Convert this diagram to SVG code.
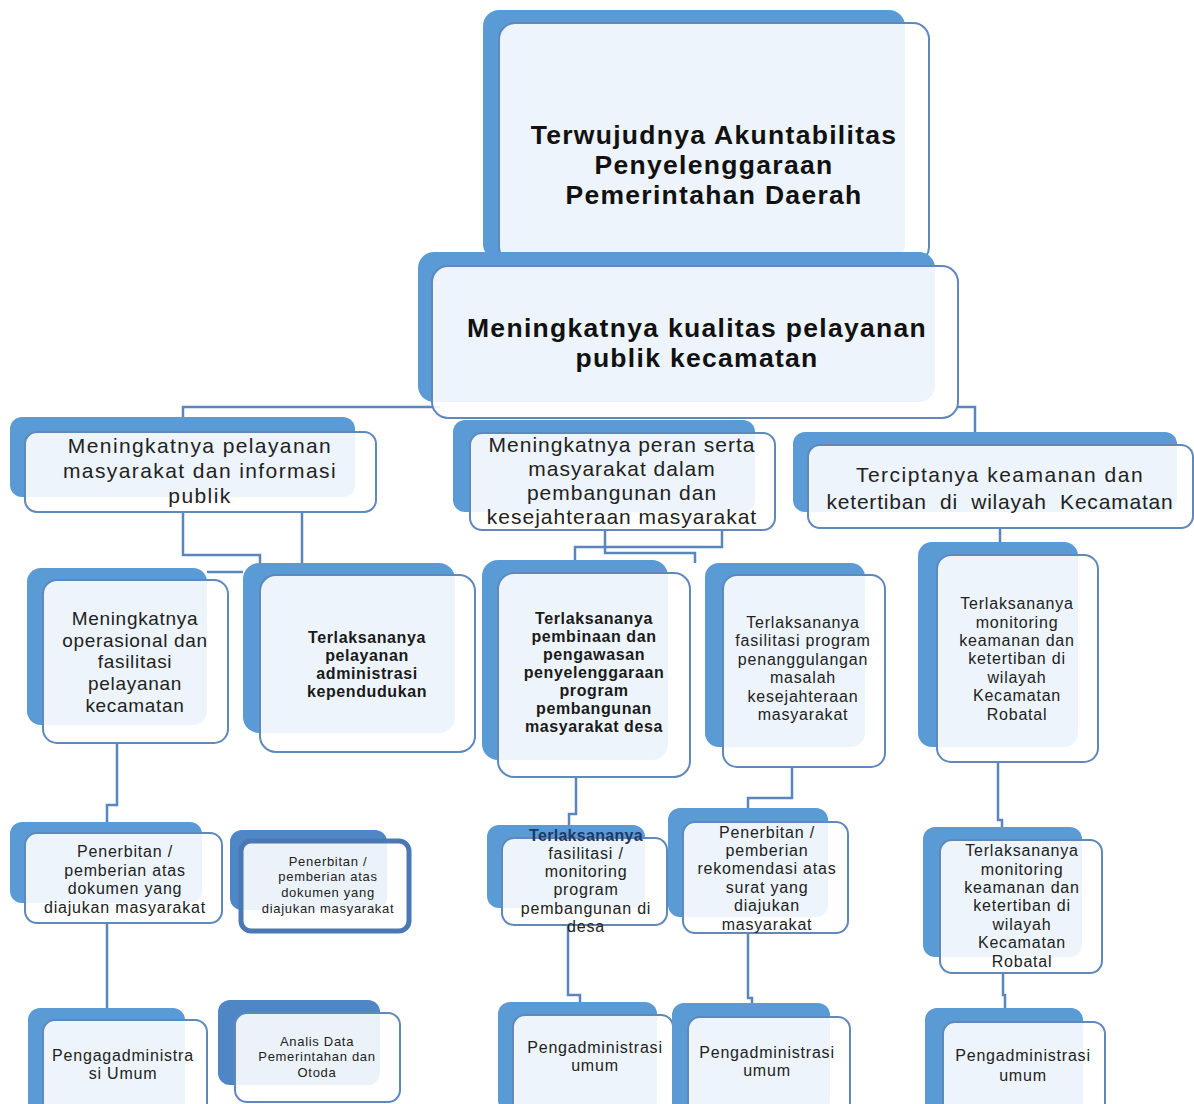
<svg xmlns="http://www.w3.org/2000/svg" width="1194" height="1104" viewBox="0 0 1194 1104">
<style>
.back{fill:#5b9bd5}
.back2{fill:#4f86c6}
.front{fill:#ffffff;fill-opacity:0.89;stroke:#5f88bb;stroke-width:2}
.frontThick{fill:#ffffff;fill-opacity:0.89;stroke:#4a78b5;stroke-width:5}
.conn{fill:none;stroke:#5a86bb;stroke-width:2.5}
text{font-family:"Liberation Sans",Arial,sans-serif;fill:#222;text-anchor:middle}
.t1{font-size:26.5px;font-weight:700;fill:#111;letter-spacing:1.3px}
.t2{font-size:21px;letter-spacing:1.4px}
.t3{font-size:19px;letter-spacing:0.7px}
.tb{font-size:16px;font-weight:700;fill:#1a1a1a;letter-spacing:0.6px}
.t4{font-size:16px;letter-spacing:0.8px}
.t5{font-size:13px;letter-spacing:0.7px}
</style>
<rect width="1194" height="1104" fill="#ffffff"/>
<g id="connectors">
<path class="conn" d="M440,407 H183 V417"/>
<path class="conn" d="M958,407 H975 V432"/>
<path class="conn" d="M183,512 V555 H260 V563"/>
<path class="conn" d="M302,512 V563"/>
<path class="conn" d="M207,572 H243"/>
<path class="conn" d="M605,530 V553 H695 V563"/>
<path class="conn" d="M722,530 V547 H575 V560"/>
<path class="conn" d="M1000,528 V542"/>
<path class="conn" d="M117,743 V805 H107 V822"/>
<path class="conn" d="M107,923 V1008"/>
<path class="conn" d="M576,777 V814 H569 V825"/>
<path class="conn" d="M568,925 V995 H580 V1002"/>
<path class="conn" d="M792,767 V798 H748 V808"/>
<path class="conn" d="M748,933 V998 H752 V1003"/>
<path class="conn" d="M998,762 V820 H1002 V827"/>
<path class="conn" d="M1003,973 V995 H1005 V1008"/>
</g>
<g id="n-top">
<rect class="back" x="483" y="10" width="422" height="250" rx="16"/>
<rect class="front" x="499" y="23" width="430" height="240" rx="16"/>
<text class="t1"><tspan x="714" y="144">Terwujudnya Akuntabilitas</tspan><tspan x="714" y="174">Penyelenggaraan</tspan><tspan x="714" y="204">Pemerintahan Daerah</tspan></text>
</g>
<g id="n-kualitas">
<rect class="back" x="418" y="252" width="517" height="150" rx="16"/>
<rect class="front" x="432" y="266" width="526" height="152" rx="16"/>
<text class="t1"><tspan x="697" y="337">Meningkatnya kualitas pelayanan</tspan><tspan x="697" y="367">publik kecamatan</tspan></text>
</g>
<g id="n-pelayanan-masyarakat">
<rect class="back" x="10" y="417" width="345" height="80" rx="12"/>
<rect class="front" x="25" y="432" width="351" height="80" rx="12"/>
<text class="t2"><tspan x="200" y="453">Meningkatnya pelayanan</tspan><tspan x="200" y="478">masyarakat dan informasi</tspan><tspan x="200" y="503">publik</tspan></text>
</g>
<g id="n-peran-serta">
<rect class="back" x="453" y="420" width="302" height="92" rx="12"/>
<rect class="front" x="470" y="433" width="305" height="97" rx="12"/>
<text class="t2" style="letter-spacing:1px"><tspan x="622" y="452">Meningkatnya peran serta</tspan><tspan x="622" y="476">masyarakat dalam</tspan><tspan x="622" y="500">pembangunan dan</tspan><tspan x="622" y="524">kesejahteraan masyarakat</tspan></text>
</g>
<g id="n-keamanan">
<rect class="back" x="793" y="432" width="384" height="80" rx="12"/>
<rect class="front" x="808" y="445" width="385" height="83" rx="12"/>
<text class="t2" xml:space="preserve"><tspan x="1000" y="482" style="letter-spacing:1.5px">Terciptanya keamanan dan</tspan><tspan x="1000" y="509" style="letter-spacing:0.8px">ketertiban  di  wilayah  Kecamatan</tspan></text>
</g>
<g id="n-operasional">
<rect class="back" x="27" y="568" width="180" height="157" rx="14"/>
<rect class="front" x="43" y="580" width="185" height="163" rx="14"/>
<text class="t3"><tspan x="135" y="625">Meningkatnya</tspan><tspan x="135" y="647">operasional dan</tspan><tspan x="135" y="668">fasilitasi</tspan><tspan x="135" y="690">pelayanan</tspan><tspan x="135" y="712">kecamatan</tspan></text>
</g>
<g id="n-kependudukan">
<rect class="back" x="243" y="563" width="212" height="170" rx="16"/>
<rect class="front" x="260" y="575" width="215" height="177" rx="16"/>
<text class="tb"><tspan x="367" y="643">Terlaksananya</tspan><tspan x="367" y="661">pelayanan</tspan><tspan x="367" y="679">administrasi</tspan><tspan x="367" y="697">kependudukan</tspan></text>
</g>
<g id="n-pembinaan">
<rect class="back" x="482" y="560" width="186" height="200" rx="16"/>
<rect class="front" x="498" y="573" width="192" height="204" rx="16"/>
<text class="tb"><tspan x="594" y="624">Terlaksananya</tspan><tspan x="594" y="642">pembinaan dan</tspan><tspan x="594" y="660">pengawasan</tspan><tspan x="594" y="678">penyelenggaraan</tspan><tspan x="594" y="696">program</tspan><tspan x="594" y="714">pembangunan</tspan><tspan x="594" y="732">masyarakat desa</tspan></text>
</g>
<g id="n-fasilitasi-program">
<rect class="back" x="705" y="563" width="160" height="184" rx="14"/>
<rect class="front" x="723" y="575" width="162" height="192" rx="14"/>
<text class="t4"><tspan x="803" y="628">Terlaksananya</tspan><tspan x="803" y="646">fasilitasi program</tspan><tspan x="803" y="665">penanggulangan</tspan><tspan x="803" y="683">masalah</tspan><tspan x="803" y="702">kesejahteraan</tspan><tspan x="803" y="720">masyarakat</tspan></text>
</g>
<g id="n-monitoring-1">
<rect class="back" x="918" y="542" width="160" height="205" rx="14"/>
<rect class="front" x="937" y="555" width="161" height="207" rx="14"/>
<text class="t4"><tspan x="1017" y="609">Terlaksananya</tspan><tspan x="1017" y="628">monitoring</tspan><tspan x="1017" y="646">keamanan dan</tspan><tspan x="1017" y="664">ketertiban di</tspan><tspan x="1017" y="683">wilayah</tspan><tspan x="1017" y="701">Kecamatan</tspan><tspan x="1017" y="720">Robatal</tspan></text>
</g>
<g id="n-penerbitan-1">
<rect class="back" x="10" y="822" width="192" height="81" rx="12"/>
<rect class="front" x="25" y="833" width="197" height="90" rx="12"/>
<text class="t4"><tspan x="125" y="857">Penerbitan /</tspan><tspan x="125" y="876">pemberian atas</tspan><tspan x="125" y="894">dokumen yang</tspan><tspan x="125" y="913">diajukan masyarakat</tspan></text>
</g>
<g id="n-penerbitan-2">
<rect class="back2" x="230" y="830" width="157" height="80" rx="12"/>
<rect class="frontThick" x="241" y="841" width="168" height="90" rx="10"/>
<text class="t5"><tspan x="328" y="866">Penerbitan /</tspan><tspan x="328" y="881">pemberian atas</tspan><tspan x="328" y="897">dokumen yang</tspan><tspan x="328" y="913">diajukan masyarakat</tspan></text>
</g>
<g id="n-fasilitasi-monitoring">
<rect class="back" x="487" y="825" width="158" height="83" rx="12"/>
<rect class="front" x="502" y="838" width="165" height="87" rx="12"/>
<text class="t4"><tspan x="586" y="841" style="fill:#1f3864;font-weight:700;letter-spacing:0.3px">Terlaksananya</tspan><tspan x="586" y="859">fasilitasi /</tspan><tspan x="586" y="877">monitoring</tspan><tspan x="586" y="895">program</tspan><tspan x="586" y="914">pembangunan di</tspan><tspan x="586" y="932">desa</tspan></text>
</g>
<g id="n-rekomendasi">
<rect class="back" x="668" y="808" width="160" height="109" rx="12"/>
<rect class="front" x="683" y="822" width="165" height="111" rx="12"/>
<text class="t4"><tspan x="767" y="838">Penerbitan /</tspan><tspan x="767" y="856">pemberian</tspan><tspan x="767" y="874">rekomendasi atas</tspan><tspan x="767" y="893">surat yang</tspan><tspan x="767" y="911">diajukan</tspan><tspan x="767" y="930">masyarakat</tspan></text>
</g>
<g id="n-monitoring-2">
<rect class="back" x="923" y="827" width="159" height="130" rx="12"/>
<rect class="front" x="940" y="840" width="162" height="133" rx="12"/>
<text class="t4"><tspan x="1022" y="856">Terlaksananya</tspan><tspan x="1022" y="875">monitoring</tspan><tspan x="1022" y="893">keamanan dan</tspan><tspan x="1022" y="911">ketertiban di</tspan><tspan x="1022" y="930">wilayah</tspan><tspan x="1022" y="948">Kecamatan</tspan><tspan x="1022" y="967">Robatal</tspan></text>
</g>
<g id="n-pengagadministrasi">
<rect class="back" x="28" y="1008" width="157" height="110" rx="12"/>
<rect class="front" x="43" y="1020" width="164" height="100" rx="12"/>
<text class="t4"><tspan x="123" y="1061">Pengagadministra</tspan><tspan x="123" y="1079">si Umum</tspan></text>
</g>
<g id="n-analis">
<rect class="back2" x="218" y="1000" width="162" height="85" rx="12"/>
<rect class="front" x="235" y="1013" width="165" height="89" rx="12"/>
<text class="t5"><tspan x="317" y="1046">Analis Data</tspan><tspan x="317" y="1061">Pemerintahan dan</tspan><tspan x="317" y="1077">Otoda</tspan></text>
</g>
<g id="n-pengadministrasi-1">
<rect class="back" x="498" y="1002" width="159" height="110" rx="12"/>
<rect class="front" x="513" y="1015" width="160" height="100" rx="12"/>
<text class="t4"><tspan x="595" y="1053">Pengadministrasi</tspan><tspan x="595" y="1071">umum</tspan></text>
</g>
<g id="n-pengadministrasi-2">
<rect class="back" x="672" y="1003" width="158" height="110" rx="12"/>
<rect class="front" x="688" y="1017" width="162" height="100" rx="12"/>
<text class="t4"><tspan x="767" y="1058">Pengadministrasi</tspan><tspan x="767" y="1076">umum</tspan></text>
</g>
<g id="n-pengadministrasi-3">
<rect class="back" x="925" y="1008" width="158" height="110" rx="12"/>
<rect class="front" x="943" y="1022" width="162" height="100" rx="12"/>
<text class="t4"><tspan x="1023" y="1061">Pengadministrasi</tspan><tspan x="1023" y="1081">umum</tspan></text>
</g>
</svg>
